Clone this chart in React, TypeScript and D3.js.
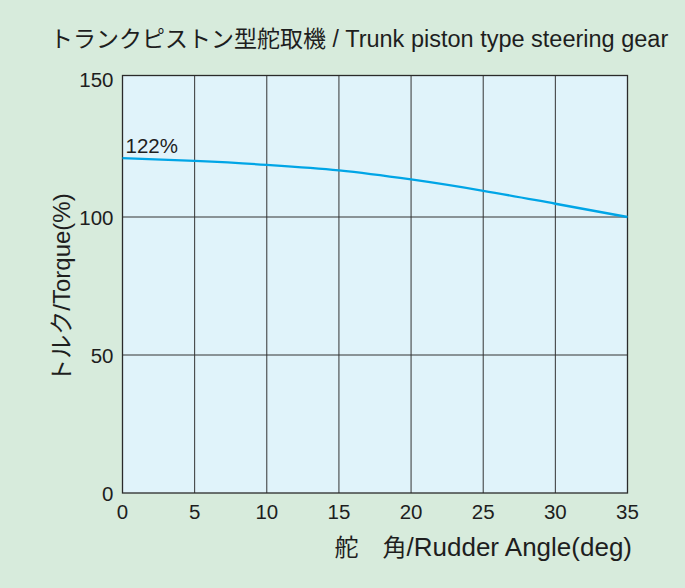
import React, { useEffect, useRef } from 'react';
import * as d3 from 'd3';

// rudder angle (deg) and torque (%)
const angles = [0, 5, 10, 15, 20, 25, 30, 35];
const torque = [121.3, 120.3, 118.9, 116.9, 113.6, 109.5, 104.8, 100];
const xTicks = [0, 5, 10, 15, 20, 25, 30, 35];
const yTicks = [0, 50, 100, 150];
const titleJa = 'トランクピストン型舵取機';
const titleEn = 'Trunk piston type steering gear';
const xLabelJa = '舵\u3000角';
const xLabelEn = '/Rudder Angle(deg)';
const yLabel = 'トルク/Torque(%)';
const peakLabel = '122%';

const W = 685;
const H = 588;
const FONT = '"Liberation Sans", Arial, "Noto Sans CJK JP", sans-serif';

export default function App() {
  const ref = useRef<SVGSVGElement>(null);

  useEffect(() => {
    const svg = d3.select(ref.current);
    svg.selectAll('*').remove();

    const xScale = d3.scaleLinear().domain([0, 35]).range([122.5, 627.5]);
    const yScale = d3.scaleLinear().domain([0, 150]).range([493, 79]);
    const left = xScale(0);
    const right = xScale(35);
    const bottom = yScale(0);
    const top = yScale(150) - 3.5;

    svg.append('rect').attr('width', W).attr('height', H).attr('fill', '#d7ebdc');

    // plot background
    svg.append('rect')
      .attr('x', left).attr('y', top)
      .attr('width', right - left).attr('height', bottom - top)
      .attr('fill', '#e0f3fa');

    // grid
    svg.append('g')
      .selectAll('line')
      .data(xTicks.slice(1, -1))
      .join('line')
      .attr('x1', d => xScale(d)).attr('x2', d => xScale(d))
      .attr('y1', top).attr('y2', bottom)
      .attr('stroke', '#333').attr('stroke-width', 1);
    svg.append('g')
      .selectAll('line')
      .data(yTicks.slice(1, -1))
      .join('line')
      .attr('x1', left).attr('x2', right)
      .attr('y1', d => yScale(d)).attr('y2', d => yScale(d))
      .attr('stroke', '#333').attr('stroke-width', 1);

    // frame
    svg.append('rect')
      .attr('x', left).attr('y', top)
      .attr('width', right - left).attr('height', bottom - top)
      .attr('fill', 'none').attr('stroke', '#2a2a2a').attr('stroke-width', 1.3);

    // curve
    const line = d3.line<number>()
      .x((_, i) => xScale(angles[i]))
      .y(d => yScale(d))
      .curve(d3.curveMonotoneX);
    svg.append('path')
      .datum(torque)
      .attr('fill', 'none')
      .attr('stroke', '#00a5e6')
      .attr('stroke-width', 2.3)
      .attr('d', line);

    svg.append('text')
      .attr('x', xScale(0) + 3).attr('y', yScale(torque[0]) - 5)
      .attr('font-family', FONT).attr('font-size', 20.5).attr('fill', '#1e1e1e')
      .text(peakLabel);

    // tick labels
    svg.append('g')
      .selectAll('text')
      .data(xTicks)
      .join('text')
      .attr('x', d => xScale(d)).attr('y', 518.5)
      .attr('text-anchor', 'middle')
      .attr('font-family', FONT).attr('font-size', 20.5).attr('fill', '#1e1e1e')
      .text(d => d);
    svg.append('g')
      .selectAll('text')
      .data(yTicks)
      .join('text')
      .attr('x', 113.5).attr('y', d => yScale(d) + 7.5)
      .attr('text-anchor', 'end')
      .attr('font-family', FONT).attr('font-size', 20.5).attr('fill', '#1e1e1e')
      .text(d => d);

    // axis titles
    const xl = svg.append('text')
      .attr('x', 632).attr('y', 556)
      .attr('text-anchor', 'end')
      .attr('font-family', FONT).attr('fill', '#1e1e1e');
    xl.append('tspan').attr('font-size', 24).text(xLabelJa);
    xl.append('tspan').attr('font-size', 26).text(xLabelEn);

    svg.append('text')
      .attr('transform', 'translate(70,288) rotate(-90)')
      .attr('text-anchor', 'middle')
      .attr('font-family', FONT).attr('font-size', 24).attr('fill', '#1e1e1e')
      .text(yLabel);

    // title
    const t = svg.append('text')
      .attr('x', 50).attr('y', 47)
      .attr('font-family', FONT).attr('fill', '#1e1e1e');
    t.append('tspan').attr('font-size', 23).text(titleJa + ' / ');
    t.append('tspan').attr('font-size', 23.5).text(titleEn);
  }, []);

  return (
    <svg
      ref={ref}
      width={W}
      height={H}
      style={{ position: 'absolute', left: 0, top: 0 }}
    />
  );
}
